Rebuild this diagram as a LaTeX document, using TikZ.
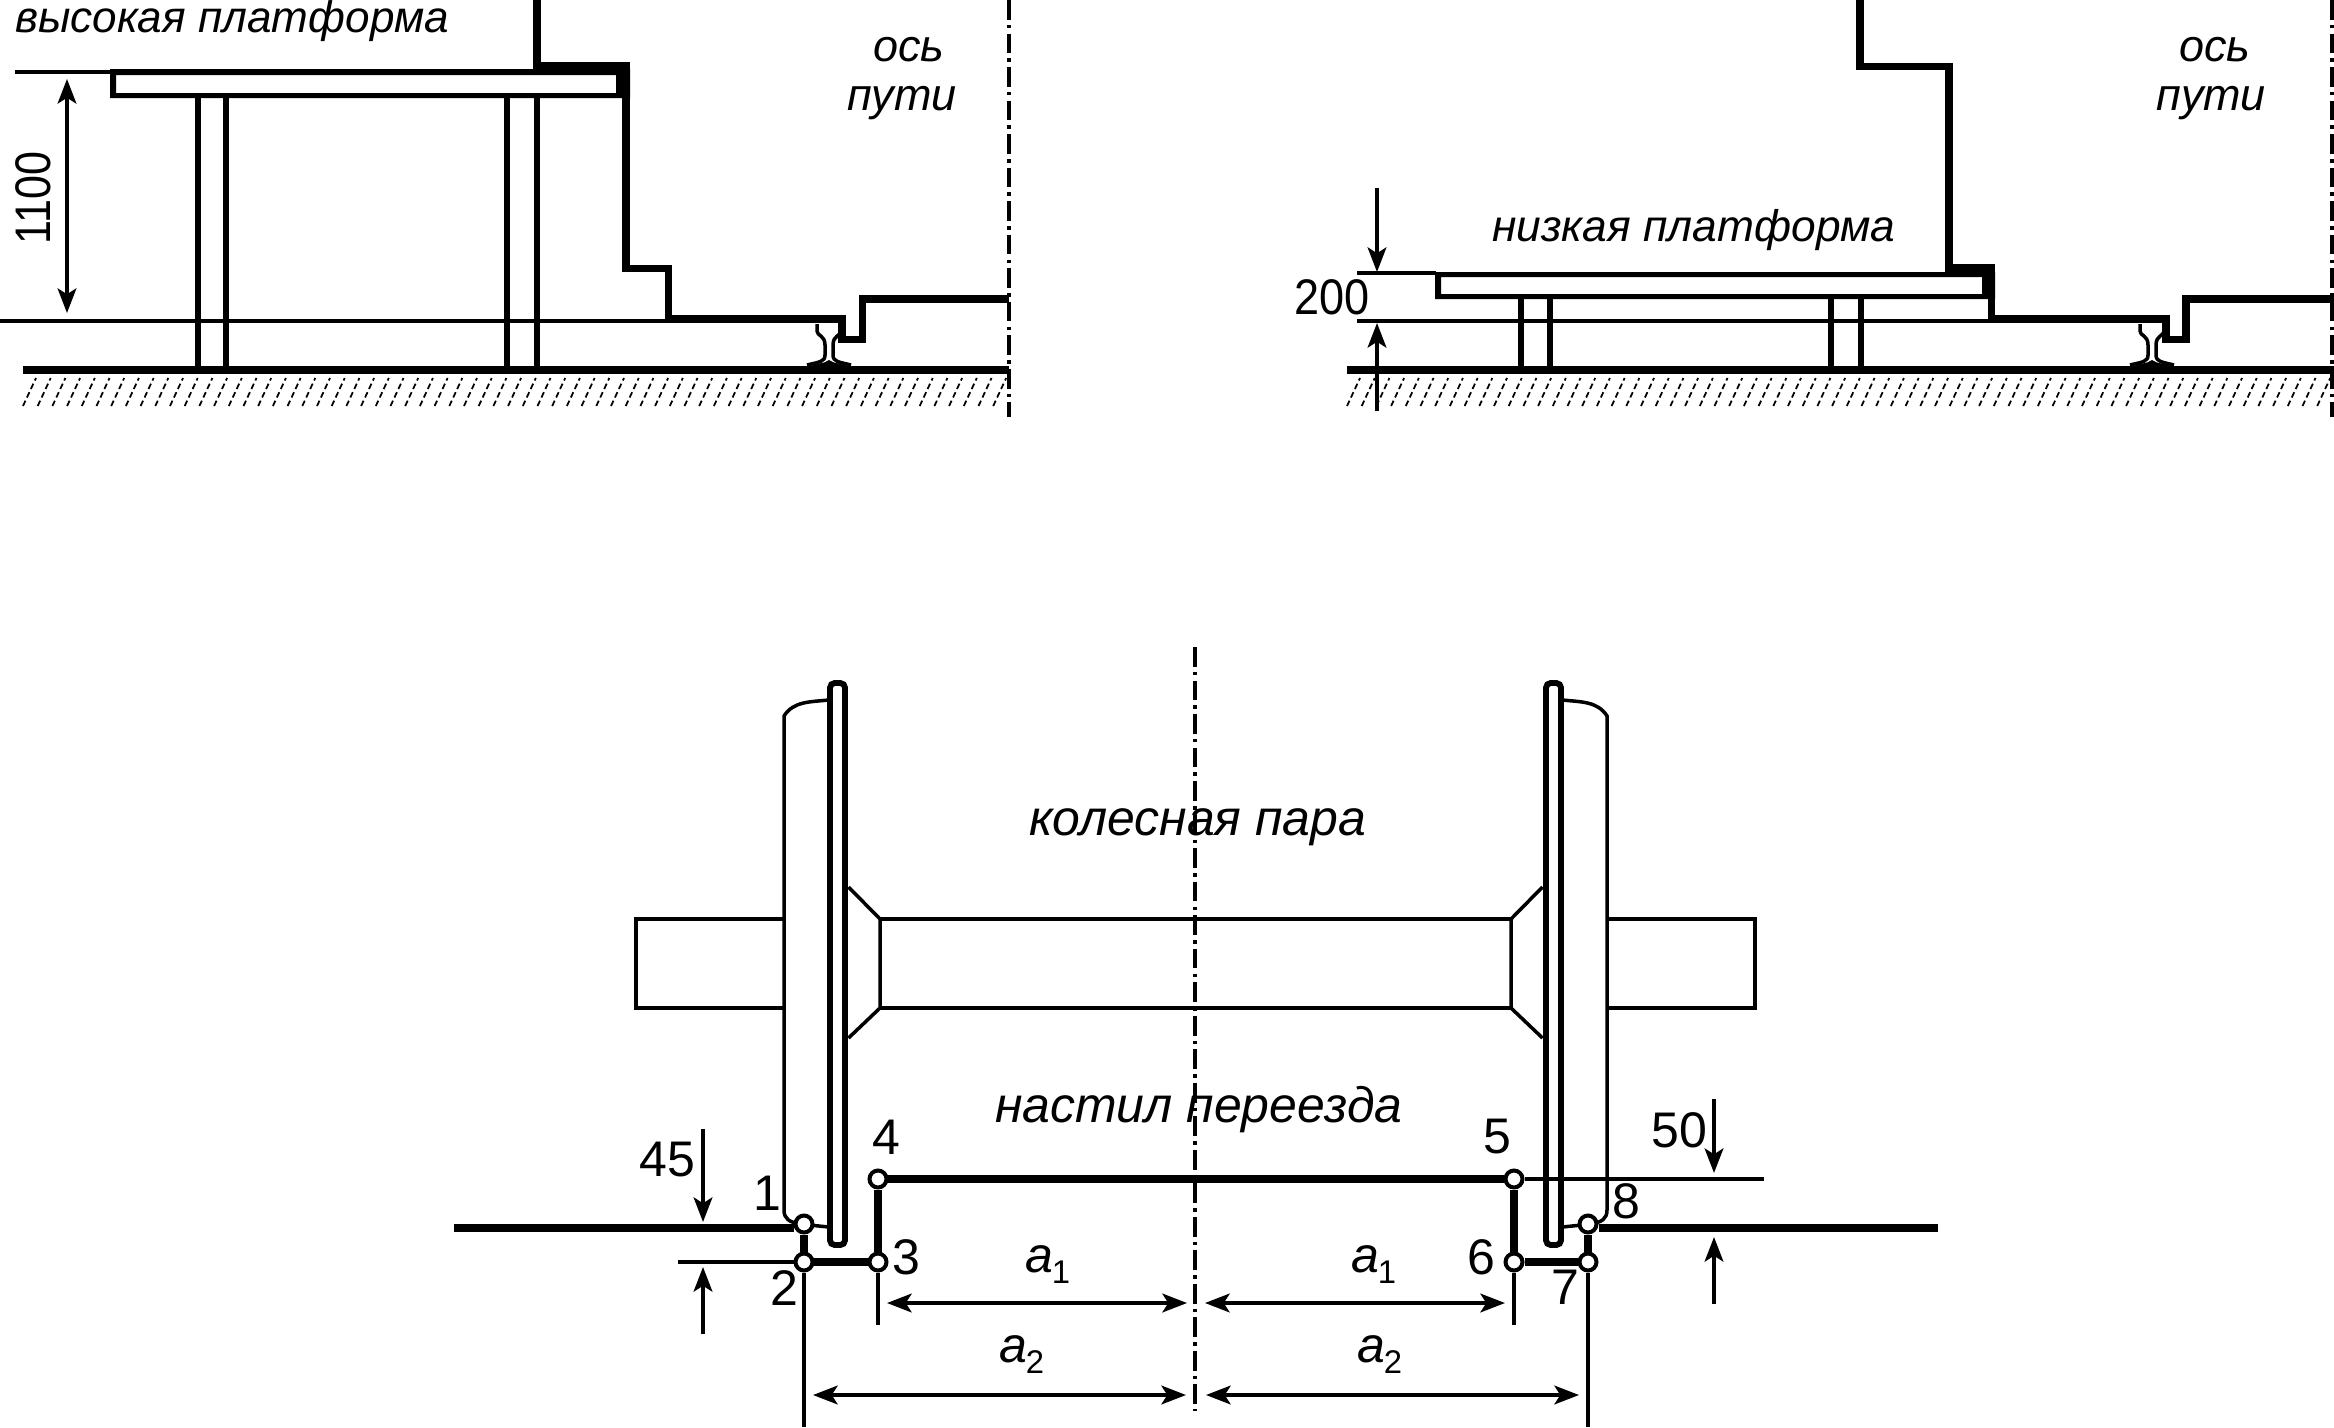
\documentclass[tikz,border=0pt]{standalone}
\usepackage{fontspec}
\setmainfont{Liberation Sans}
\usetikzlibrary{arrows.meta}
\newcommand{\fsz}[1]{\fontsize{#1}{#1}\selectfont}
\newcommand{\subdim}[1]{{\itshape a}\kern-1pt\raisebox{-9.4pt}{\upshape\fsz{28}#1}}
\tikzset{
  >={Stealth[length=21pt,width=16pt,inset=5pt]},
  heavy/.style={line width=6.6pt},
  thin line/.style={line width=3pt},
  flange/.style={line width=5pt,rounded corners=4pt},
  axis line/.style={line width=3.2pt,dash pattern=on 17pt off 4.3pt on 3pt off 4.3pt},
  hatch line/.style={line width=1.5pt,dash pattern=on 5pt off 3pt},
  num/.style={inner sep=0pt,font=\fsz{42.7}},
  caption/.style={inner sep=0pt,anchor=base west,font=\fsz{#1}\itshape},
  point/.style={circle,draw,fill=white,inner sep=0pt,minimum size=14.5pt,line width=3.4pt},
  rail/.pic={
    \draw[line width=3pt] (-12,324) -- (-12,331) .. controls (-12,336) and (-4,335) .. (-4,345) -- (-4,355) .. controls (-4,362) and (-10,362) .. (-22,365);
    \draw[line width=3pt] (12,324) -- (12,331) .. controls (12,336) and (4,335) .. (4,345) -- (4,355) .. controls (4,362) and (10,362) .. (22,365);
    \fill (-22,367) .. controls (-12,363) and (-5,364) .. (0,360) .. controls (5,364) and (12,363) .. (22,367) -- cycle;
  },
  wheelset/.pic={
    \draw[flange] (-365.5,683) rectangle (-350.5,1245);
    \draw[thin line] (-367,700) .. controls (-385,702) and (-402,701) .. (-411.5,716) -- (-411.5,1210) .. controls (-411.5,1219) and (-406,1222) .. (-396,1224) -- (-367,1227);
    \draw[thin line] (-411.5,919) -- (-559.5,919) -- (-559.5,1008) -- (-411.5,1008);
    \draw[thin line] (-347,887) -- (-315.5,919) -- (-315.5,1008) -- (-347,1038);
    \draw[thin line] (-315.5,919) -- (0,919) (-315.5,1008) -- (0,1008);
  }
}
\begin{document}
\begin{tikzpicture}[x=0.03cm,y=-0.03cm]
  \useasboundingbox (0,0) rectangle (2334,1427);

  % high platform
  \fill[even odd rule] (110,69) rectangle (630,98) (116,75) rectangle (616,93);
  \fill (533,62) rectangle (630,75);
  \draw[heavy] (537,0) -- (537,66);
  \draw[heavy] (626,62) -- (626,268.5) -- (668.5,268.5) -- (668.5,319) -- (842,319) -- (842,339.5) -- (862.5,339.5) -- (862.5,299) -- (1009,299);
  \draw[thin line] (15,72) -- (112,72) (0,321) -- (666,321);
  \foreach \legx in {198,226,507,537}
    \draw[line width=5.4pt] (\legx,98) -- (\legx,366);
  \fill (23,366) rectangle (1009,374);
  \foreach \hx in {23,37.7,...,1000}
    \draw[hatch line] (\hx,406) -- (\hx+13,378);
  \pic at (829,0) {rail};
  \draw[axis line] (1009,0) -- (1009,417);
  \coordinate (hitop) at (67,79);
  \coordinate (hibot) at (67,313);
  \draw[thin line,<->] (hitop) -- (hibot);
  \node[num,rotate=90] (hival) at (33,198) {\scalebox{.86}[1]{1100}};
  \node[caption=37.6] (hiname) at (15,32) {высокая платформа};
  \node[caption=38.4] (hiaxisa) at (873,61) {ось};
  \node[caption=38.4] (hiaxisb) at (847,110) {пути};

  % low platform
  \fill[even odd rule] (1435,272) rectangle (1995,299) (1441,277) rectangle (1982,294);
  \fill (1945,264) rectangle (1995,277);
  \draw[heavy] (1860,0) -- (1860,66.5) -- (1949,66.5) -- (1949,268);
  \draw[heavy] (1991.5,264) -- (1991.5,319) -- (2166,319) -- (2166,339.5) -- (2186,339.5) -- (2186,299) -- (2334,299);
  \draw[thin line] (1357,273) -- (1436,273) (1357,321) -- (1989,321);
  \foreach \legx in {1521,1550,1831,1861}
    \draw[line width=5.4pt] (\legx,299) -- (\legx,366);
  \fill (1347,366) rectangle (2334,374);
  \foreach \hx in {1347,1361.7,...,2325}
    \draw[hatch line] (\hx,406) -- (\hx+13,378);
  \pic at (2152,0) {rail};
  \draw[axis line] (2332,0) -- (2332,417);
  \coordinate (lotopa) at (1377,188);
  \coordinate (lotopb) at (1377,272);
  \coordinate (lobota) at (1377,411);
  \coordinate (lobotb) at (1377,323);
  \draw[thin line,->] (lotopa) -- (lotopb);
  \draw[thin line,->] (lobota) -- (lobotb);
  \node[num] (loval) at (1332,297) {\scalebox{.9}[1]{200}};
  \node[caption=37.8] (loname) at (1492,241) {низкая платформа};
  \node[caption=38.4] (loaxisa) at (2179,61) {ось};
  \node[caption=38.4] (loaxisb) at (2156,110) {пути};

  % wheel pair
  \pic at (1195.5,0) {wheelset};
  \pic[xscale=-1] at (1195.5,0) {wheelset};
  \draw[axis line] (1195,647) -- (1195,1411);
  \node[caption=42.6] (pairname) at (1029,835) {колесная пара};
  \node[caption=42.6] (deckname) at (995,1122) {настил переезда};

  \node[point] (pa) at (804,1224) {};
  \node[point] (pb) at (804,1262) {};
  \node[point] (pc) at (878,1262) {};
  \node[point] (pd) at (878,1179) {};
  \node[point] (pe) at (1514,1179) {};
  \node[point] (pf) at (1514,1262) {};
  \node[point] (pg) at (1588,1262) {};
  \node[point] (ph) at (1588,1224) {};
  \coordinate (roadl) at (454,1228);
  \coordinate (roadr) at (1938,1228);
  \draw[heavy] (roadl) -- (pa.west |- roadl);
  \draw[heavy] (roadr) -- (ph.east |- roadr);
  \draw[heavy] (pa) -- (pb);
  \draw[heavy] (pb) -- (pc);
  \draw[heavy] (pc) -- (pd);
  \draw[heavy] (pd) -- (pe);
  \draw[heavy] (pe) -- (pf);
  \draw[heavy] (pf) -- (pg);
  \draw[heavy] (pg) -- (ph);

  \coordinate (extb) at (804,1427);
  \coordinate (extc) at (878,1325);
  \coordinate (extf) at (1514,1325);
  \coordinate (extg) at (1588,1427);
  \coordinate (lineb) at (678,1262);
  \coordinate (linee) at (1764,1179);
  \draw[thin line] (pb) -- (extb);
  \draw[thin line] (pc) -- (extc);
  \draw[thin line] (pf) -- (extf);
  \draw[thin line] (pg) -- (extg);
  \draw[thin line] (lineb) -- (pb);
  \draw[thin line] (pe) -- (linee);

  \coordinate (aal) at (887,1303);
  \coordinate (aam) at (1187,1303);
  \coordinate (abm) at (1205,1303);
  \coordinate (abr) at (1505,1303);
  \coordinate (bal) at (813,1395);
  \coordinate (bam) at (1186,1395);
  \coordinate (bbm) at (1206,1395);
  \coordinate (bbr) at (1579,1395);
  \draw[thin line,<->] (aal) -- (aam);
  \draw[thin line,<->] (abm) -- (abr);
  \draw[thin line,<->] (bal) -- (bam);
  \draw[thin line,<->] (bbm) -- (bbr);

  \coordinate (fouratop) at (703,1129);
  \coordinate (fouratip) at (703,1222);
  \coordinate (fourbbot) at (703,1334);
  \coordinate (fourbtip) at (703,1267);
  \coordinate (fiveatop) at (1714,1099);
  \coordinate (fiveatip) at (1714,1173);
  \coordinate (fivebbot) at (1714,1304);
  \coordinate (fivebtip) at (1714,1237);
  \draw[thin line,->] (fouratop) -- (fouratip);
  \draw[thin line,->] (fourbbot) -- (fourbtip);
  \draw[thin line,->] (fiveatop) -- (fiveatip);
  \draw[thin line,->] (fivebbot) -- (fivebtip);

  \node[num] (valfour) at (667,1160) {45};
  \node[num] (valfive) at (1679,1130) {50};
  \node[num] (numa) at (767,1193) {1};
  \node[num] (numb) at (784,1288) {2};
  \node[num] (numc) at (906,1257) {3};
  \node[num] (numd) at (886,1137) {4};
  \node[num] (nume) at (1497,1137) {5};
  \node[num] (numf) at (1481,1257) {6};
  \node[num] (numg) at (1565,1287) {7};
  \node[num] (numh) at (1626,1201) {8};
  \node[caption=42.7] (aone) at (1025,1272) {\subdim{1}};
  \node[caption=42.7] (aonb) at (1351,1272) {\subdim{1}};
  \node[caption=42.7] (atwo) at (999,1362) {\subdim{2}};
  \node[caption=42.7] (atwb) at (1357,1362) {\subdim{2}};
\end{tikzpicture}
\end{document}
